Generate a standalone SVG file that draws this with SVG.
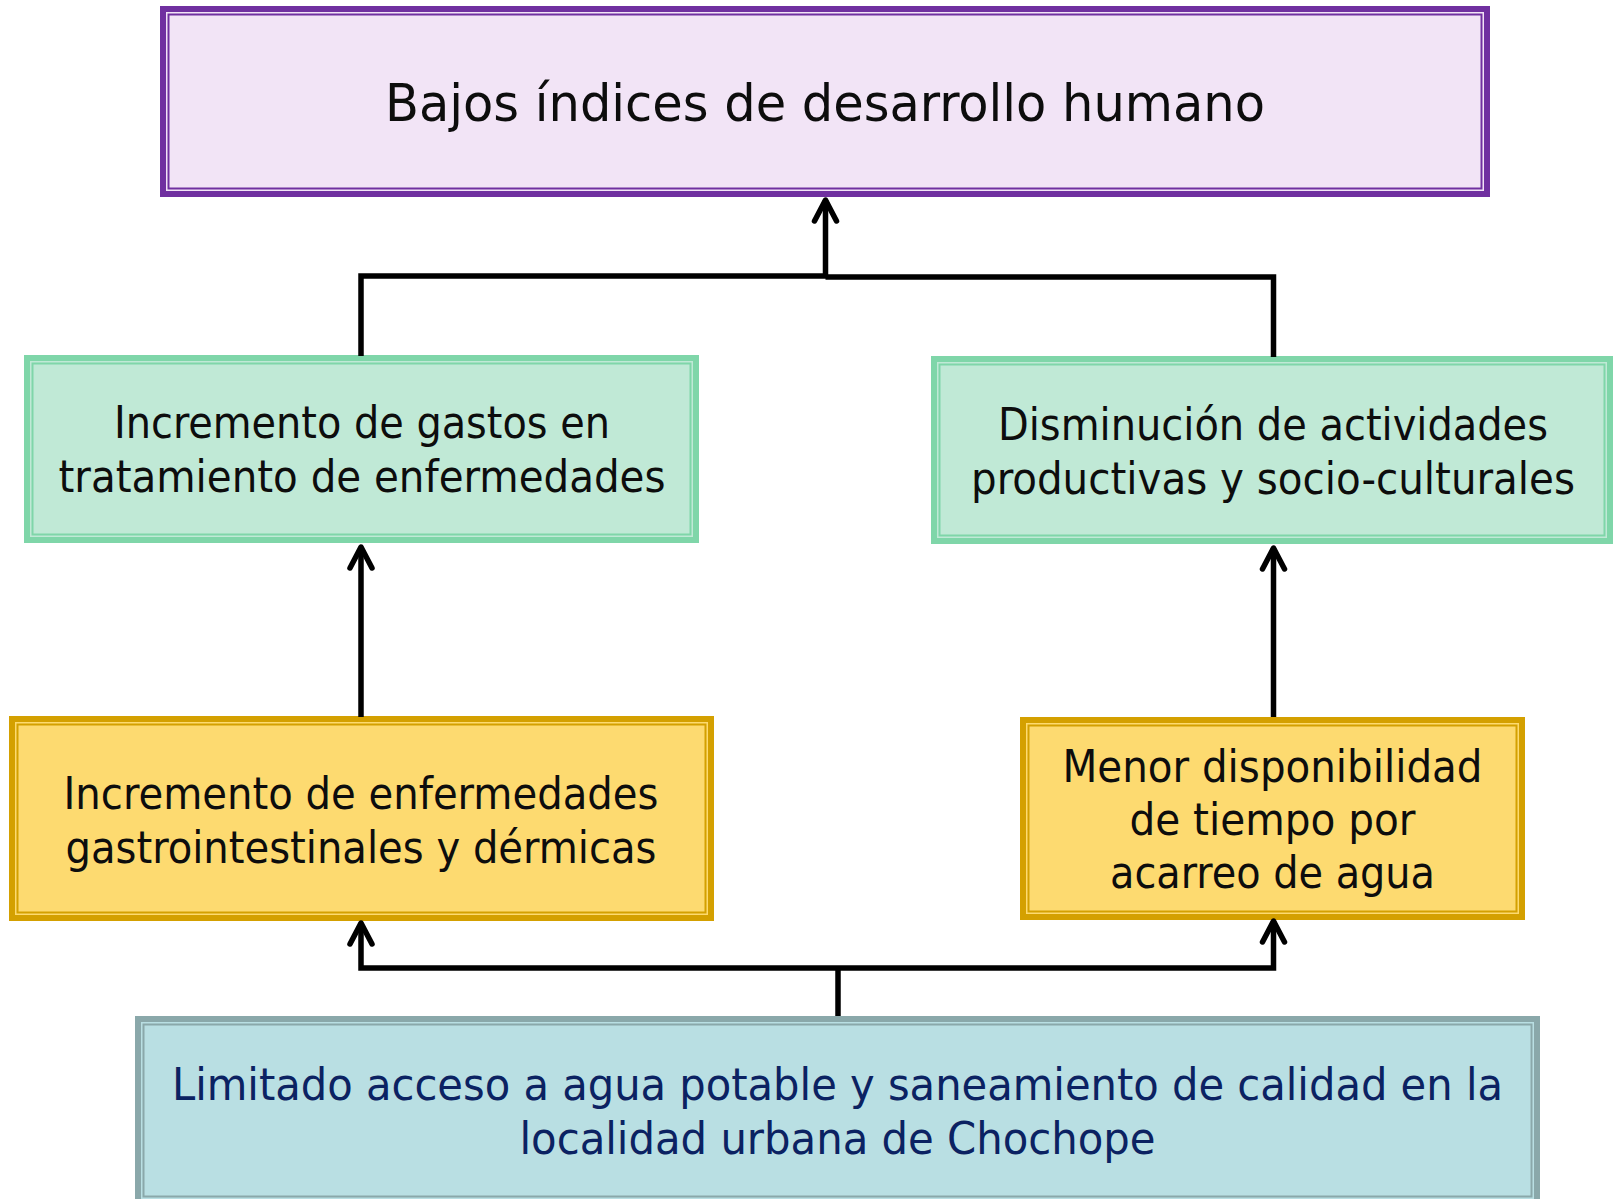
<svg xmlns="http://www.w3.org/2000/svg" width="1613" height="1199" viewBox="0 0 1613 1199">
<defs>
<style>
text{font-family:"DejaVu Sans Condensed","DejaVu Sans",sans-serif;font-stretch:condensed;text-anchor:middle;fill:#0d0d0d;font-size:44px}
.title{font-size:52px}
.navy{fill:#0b2262}
.outer{stroke-width:6}
.inner{fill:none;stroke-width:2}
.purple{stroke:#7030a0}
.green{stroke:#7fd6a9}
.yellow{stroke:#d4a000}
.teal{stroke:#8aa8aa}
.conn{fill:none;stroke:#000;stroke-width:5.5;stroke-linejoin:miter}
</style>
<marker id="arr" markerUnits="userSpaceOnUse" markerWidth="40" markerHeight="40" refX="0" refY="0" viewBox="-30 -20 40 40" orient="auto" overflow="visible">
<path d="M-21,-11 L0,0 L-21,11" fill="none" stroke="#000" stroke-width="5.5" stroke-linecap="round" stroke-linejoin="round"/>
</marker>
</defs>

<g id="node-top">
<rect class="outer purple" x="163" y="9" width="1324" height="185" fill="#f2e4f6"/>
<rect class="inner purple" x="168.5" y="14.5" width="1313" height="174"/>
<text class="title" x="825" y="121" textLength="880" lengthAdjust="spacingAndGlyphs">Bajos índices de desarrollo humano</text>
</g>

<g id="node-gastos">
<rect class="outer green" x="27" y="358" width="669" height="182" fill="#c0e9d6"/>
<rect class="inner green" x="32.5" y="363.5" width="658" height="171"/>
<text x="362" y="438" textLength="496" lengthAdjust="spacingAndGlyphs">Incremento de gastos en</text>
<text x="362" y="492" textLength="607" lengthAdjust="spacingAndGlyphs">tratamiento de enfermedades</text>
</g>

<g id="node-actividades">
<rect class="outer green" x="934" y="359" width="676" height="182" fill="#c0e9d6"/>
<rect class="inner green" x="939.5" y="364.5" width="665" height="171"/>
<text x="1273" y="440" textLength="550" lengthAdjust="spacingAndGlyphs">Disminución de actividades</text>
<text x="1273" y="494" textLength="604" lengthAdjust="spacingAndGlyphs">productivas y socio-culturales</text>
</g>

<g id="node-enfermedades">
<rect class="outer yellow" x="12" y="719" width="699" height="199" fill="#fdda70"/>
<rect class="inner yellow" x="17.5" y="724.5" width="688" height="188"/>
<text x="361" y="809" textLength="595" lengthAdjust="spacingAndGlyphs">Incremento de enfermedades</text>
<text x="361" y="863" textLength="591" lengthAdjust="spacingAndGlyphs">gastrointestinales y dérmicas</text>
</g>

<g id="node-tiempo">
<rect class="outer yellow" x="1023" y="720" width="499" height="197" fill="#fdda70"/>
<rect class="inner yellow" x="1028.5" y="725.5" width="488" height="186"/>
<text x="1272.5" y="782" textLength="420" lengthAdjust="spacingAndGlyphs">Menor disponibilidad</text>
<text x="1272.5" y="835" textLength="286" lengthAdjust="spacingAndGlyphs">de tiempo por</text>
<text x="1272.5" y="888" textLength="325" lengthAdjust="spacingAndGlyphs">acarreo de agua</text>
</g>

<g id="node-acceso">
<rect class="outer teal" x="138" y="1019" width="1399" height="183" fill="#b9dfe3"/>
<rect class="inner teal" x="143.5" y="1024.5" width="1388" height="172"/>
<text class="navy" x="837.5" y="1100" textLength="1331" lengthAdjust="spacingAndGlyphs">Limitado acceso a agua potable y saneamiento de calidad en la</text>
<text class="navy" x="837.5" y="1154" textLength="636" lengthAdjust="spacingAndGlyphs">localidad urbana de Chochope</text>
</g>

<g id="connectors">
<path class="conn" d="M361,356 V276 H825.5 V200" marker-end="url(#arr)"/>
<path class="conn" d="M1273.5,357 V277 H825.5"/>
<path class="conn" d="M361,717 V547" marker-end="url(#arr)"/>
<path class="conn" d="M1273.5,717 V548" marker-end="url(#arr)"/>
<path class="conn" d="M838,1016 V968"/>
<path class="conn" d="M838,968 H361 V923" marker-end="url(#arr)"/>
<path class="conn" d="M838,968 H1273.5 V921" marker-end="url(#arr)"/>
</g>
</svg>
